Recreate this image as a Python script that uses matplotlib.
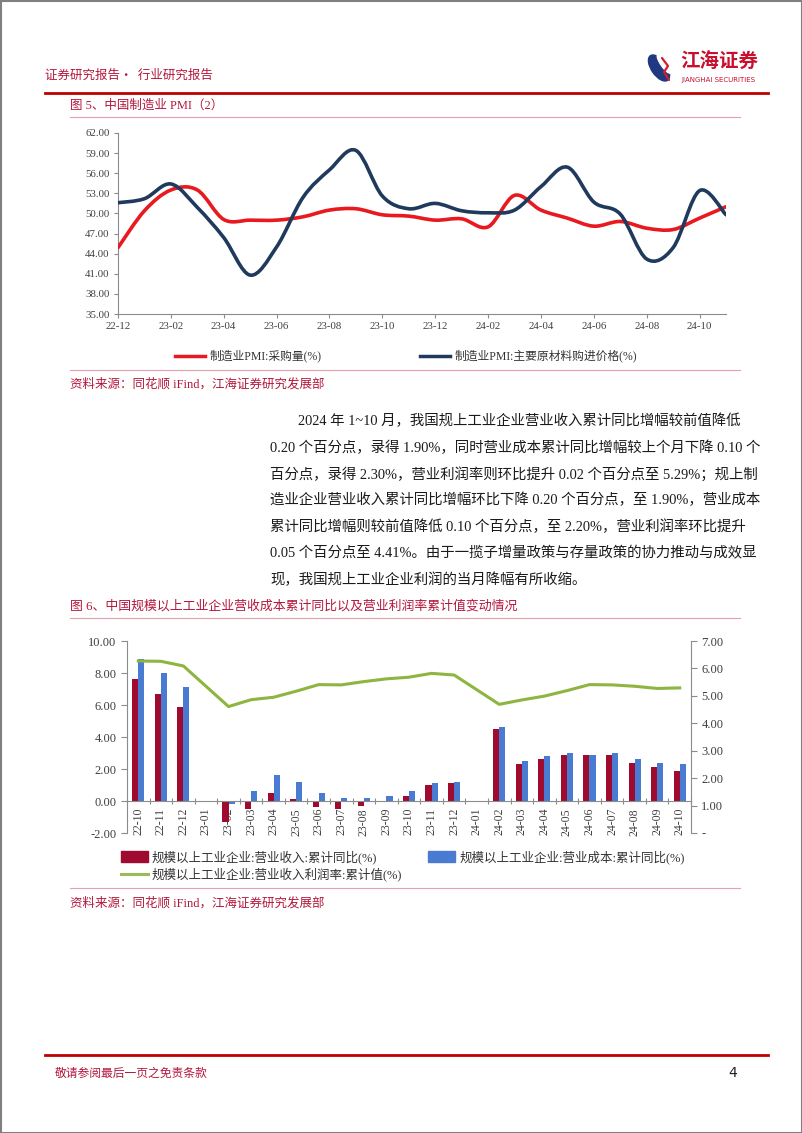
import matplotlib
matplotlib.use("Agg")
import matplotlib.pyplot as plt
import numpy as np
from matplotlib.path import Path
from matplotlib.patches import PathPatch, Rectangle, Ellipse

plt.rcParams['font.family'] = ['Liberation Serif', 'Noto Sans CJK SC', 'DejaVu Sans']

# ---- data: figure 5 (PMI) ----
pmi_months = ['22-12', '23-01', '23-02', '23-03', '23-04', '23-05', '23-06', '23-07',
              '23-08', '23-09', '23-10', '23-11', '23-12', '24-01', '24-02', '24-03',
              '24-04', '24-05', '24-06', '24-07', '24-08', '24-09', '24-10', '24-11']
pmi_purchase = [44.9, 50.4, 53.5, 53.5, 49.1, 49.0, 49.0, 49.5, 50.5, 50.7, 49.8, 49.6,
                49.0, 49.2, 48.0, 52.7, 50.5, 49.3, 48.1, 48.8, 47.8, 47.6, 49.3, 51.0]
pmi_price = [51.6, 52.2, 54.4, 50.9, 46.4, 40.8, 45.0, 52.4, 56.5, 59.4, 52.6, 50.7,
             51.5, 50.4, 50.1, 50.5, 54.0, 56.9, 51.7, 49.9, 43.2, 44.9, 53.4, 49.8]
pmi_labels = ['制造业PMI:采购量(%)', '制造业PMI:主要原材料购进价格(%)']

# ---- data: figure 6 (industrial enterprises) ----
ind_months = ['22-10', '22-11', '22-12', '23-01', '23-02', '23-03', '23-04', '23-05',
              '23-06', '23-07', '23-08', '23-09', '23-10', '23-11', '23-12', '24-01',
              '24-02', '24-03', '24-04', '24-05', '24-06', '24-07', '24-08', '24-09', '24-10']
nan = np.nan
revenue_yoy = [7.6, 6.7, 5.9, nan, -1.3, -0.5, 0.5, 0.1, -0.4, -0.5, -0.3, 0.0, 0.3,
               1.0, 1.1, nan, 4.5, 2.3, 2.6, 2.9, 2.9, 2.9, 2.4, 2.1, 1.9]
cost_yoy = [8.9, 8.0, 7.1, nan, -0.2, 0.6, 1.6, 1.2, 0.5, 0.2, 0.2, 0.3, 0.6,
            1.1, 1.2, nan, 4.6, 2.5, 2.8, 3.0, 2.9, 3.0, 2.6, 2.4, 2.3]
profit_margin = [6.27, 6.26, 6.09, nan, 4.61, 4.86, 4.95, 5.17, 5.41, 5.40, 5.52, 5.62, 5.68,
                 5.82, 5.76, nan, 4.69, 4.85, 4.99, 5.19, 5.41, 5.40, 5.35, 5.27, 5.29]
ind_labels = ['规模以上工业企业:营业收入:累计同比(%)', '规模以上工业企业:营业成本:累计同比(%)',
              '规模以上工业企业:营业收入利润率:累计值(%)']

paragraph = [
    '2024 年 1~10 月，我国规上工业企业营业收入累计同比增幅较前值降低',
    '0.20 个百分点，录得 1.90%，同时营业成本累计同比增幅较上个月下降 0.10 个',
    '百分点，录得 2.30%，营业利润率则环比提升 0.02 个百分点至 5.29%；规上制',
    '造业企业营业收入累计同比增幅环比下降 0.20 个百分点，至 1.90%，营业成本',
    '累计同比增幅则较前值降低 0.10 个百分点，至 2.20%，营业利润率环比提升',
    '0.05 个百分点至 4.41%。由于一揽子增量政策与存量政策的协力推动与成效显',
    '现，我国规上工业企业利润的当月降幅有所收缩。',
]

W, H = 802, 1133
CRIMSON = '#B3173C'
PINK = '#E3A3AE'
GRAY = '#8C8C8C'
TICK = '#404040'


def smooth_path(xs, ys):
    pts = np.column_stack([xs, ys]).astype(float)
    n = len(pts)
    verts = [pts[0]]
    codes = [Path.MOVETO]
    for i in range(n - 1):
        p0 = pts[i - 1] if i > 0 else pts[i]
        p1, p2 = pts[i], pts[i + 1]
        p3 = pts[i + 2] if i + 2 < n else pts[i + 1]
        verts += [p1 + (p2 - p0) / 6, p2 - (p3 - p1) / 6, p2]
        codes += [Path.CURVE4] * 3
    return Path(verts, codes)


def fig_rect(x0, y0, x1, y1):
    return [x0 / W, 1 - y1 / H, (x1 - x0) / W, (y1 - y0) / H]


fig = plt.figure(figsize=(W / 100, H / 100), dpi=100)

# page layer in pixel coordinates
page = fig.add_axes([0, 0, 1, 1])
page.set_xlim(0, W)
page.set_ylim(H, 0)
page.axis('off')
page.add_patch(Rectangle((0.5, 0.5), W - 1, H - 1, fill=False, ec='#808080', lw=1.5))

cjk = ['Noto Sans CJK SC', 'DejaVu Sans']
mixed = ['Liberation Serif', 'Noto Sans CJK SC']

# header
page.text(45, 75, '证券研究报告·  行业研究报告', fontsize=9, color=CRIMSON, family=cjk, va='center')
page.add_patch(Ellipse((659, 68), 15, 30, angle=-35, color='#1F3A80'))
page.add_patch(Ellipse((664, 64), 6, 22, angle=-35, color='white'))
page.plot([662, 668, 664, 669], [58, 66, 72, 80], color='#D21F2B', lw=1.6, solid_capstyle='round')
page.text(680, 62, '江海证券', fontsize=14, color='#C8102E', family=cjk, va='center', weight='bold')
page.text(681, 80, 'JIANGHAI SECURITIES', fontsize=5, color='#C8102E', family=['DejaVu Sans'], va='center')
page.plot([45, 768], [93, 93], color='#C00000', lw=2)

# figure 5 title and footer
page.text(70, 106, '图 5、中国制造业 PMI（2）', fontsize=9, color=CRIMSON, family=mixed, va='center')
page.plot([70, 740], [117, 117], color=PINK, lw=0.8)
page.plot([175, 205], [356, 356], color='#E8191F', lw=2.5)
page.text(210, 356, pmi_labels[0], fontsize=8.5, color='#333333', family=mixed, va='center')
page.plot([420, 450], [356, 356], color='#1F3A5C', lw=2.5)
page.text(455, 356, pmi_labels[1], fontsize=8.5, color='#333333', family=mixed, va='center')
page.plot([70, 740], [370, 370], color=PINK, lw=0.8)
page.text(70, 384, '资料来源：同花顺 iFind，江海证券研究发展部', fontsize=9, color=CRIMSON, family=mixed, va='center')

# paragraph
for i, line in enumerate(paragraph):
    x = 298 if i == 0 else 270
    page.text(x, 421 + i * 26.4, line, fontsize=10.4, color='#1A1A1A', family=mixed, va='center')

# figure 6 title, legend, footer
page.text(70, 606, '图 6、中国规模以上工业企业营收成本累计同比以及营业利润率累计值变动情况', fontsize=9.3,
          color=CRIMSON, family=mixed, va='center')
page.plot([70, 740], [618, 618], color=PINK, lw=0.8)
page.add_patch(Rectangle((121, 851), 27, 11, color='#9E0B2E'))
page.text(152, 857, ind_labels[0], fontsize=9, color='#333333', family=mixed, va='center')
page.add_patch(Rectangle((428, 851), 27, 11, color='#4A7BD3'))
page.text(460, 857, ind_labels[1], fontsize=9, color='#333333', family=mixed, va='center')
page.plot([121, 148], [874, 874], color='#9BBB59', lw=2.2)
page.text(152, 874, ind_labels[2], fontsize=9, color='#333333', family=mixed, va='center')
page.plot([70, 740], [888, 888], color=PINK, lw=0.8)
page.text(70, 903, '资料来源：同花顺 iFind，江海证券研究发展部', fontsize=9, color=CRIMSON, family=mixed, va='center')

# page footer
page.plot([45, 768], [1055, 1055], color='#C00000', lw=2)
page.text(55, 1073, '敬请参阅最后一页之免责条款', fontsize=8.5, color=CRIMSON, family=cjk, va='center')
page.text(733, 1073, '4', fontsize=10, color='#222222', family=['DejaVu Sans'], va='center', ha='center')

# ---- chart 1: PMI ----
ax1 = fig.add_axes(fig_rect(118, 133, 726, 314))
x1 = np.arange(len(pmi_months))
ax1.add_patch(PathPatch(smooth_path(x1, pmi_purchase), fill=False, ec='#E8191F', lw=2.6,
                        capstyle='round', joinstyle='round', zorder=3))
ax1.add_patch(PathPatch(smooth_path(x1, pmi_price), fill=False, ec='#1F3A5C', lw=2.6,
                        capstyle='round', joinstyle='round', zorder=3))
ax1.set_xlim(0, len(pmi_months) - 1)
ax1.set_ylim(35, 62)
ax1.set_yticks(np.arange(35, 62.1, 3))
ax1.set_yticklabels(['%.2f' % v for v in np.arange(35, 62.1, 3)])
ax1.set_xticks(x1[::2])
ax1.set_xticklabels(pmi_months[::2])
for s in ['top', 'right']:
    ax1.spines[s].set_visible(False)
for s in ['left', 'bottom']:
    ax1.spines[s].set_color(GRAY)
    ax1.spines[s].set_linewidth(0.8)
ax1.tick_params(colors=GRAY, labelcolor=TICK, labelsize=7.8, length=3, width=0.8, pad=3)
ax1.patch.set_alpha(0)

# ---- chart 2: industrial enterprises ----
ax2 = fig.add_axes(fig_rect(127, 641, 691, 833))
ax2.spines['bottom'].set_position(('data', 0))
x2 = np.arange(len(ind_months))
w = 0.27
ax2.bar(x2 - w / 2, revenue_yoy, w, color='#9E0B2E', zorder=2)
ax2.bar(x2 + w / 2, cost_yoy, w, color='#4A7BD3', zorder=2)
ax2.set_xlim(-0.5, len(ind_months) - 0.5)
ax2.set_ylim(-2, 10)
ax2.set_yticks(np.arange(-2, 10.1, 2))
ax2.set_yticklabels(['%.2f' % v for v in np.arange(-2, 10.1, 2)])
ax2.set_xticks(x2)
ax2.set_xticklabels(ind_months, rotation=90, va='top', ha='center')
ax2.set_xticks(np.arange(-0.5, len(ind_months), 1), minor=True)
for s in ['top', 'right']:
    ax2.spines[s].set_visible(False)
for s in ['left', 'bottom']:
    ax2.spines[s].set_color(GRAY)
    ax2.spines[s].set_linewidth(0.8)
ax2.tick_params(axis='y', colors=GRAY, labelcolor=TICK, labelsize=9, length=4, width=0.8)
ax2.tick_params(axis='x', which='major', length=0, labelsize=8.5, labelcolor=TICK, pad=5)
ax2.tick_params(axis='x', which='minor', length=4, direction='inout', color=GRAY, width=0.8)
ax2.patch.set_alpha(0)

ax2r = ax2.twinx()
m = np.array(profit_margin)
ok = ~np.isnan(m)
ax2r.plot(x2[ok], m[ok], color='#8DB53F', lw=2.2, solid_joinstyle='round', zorder=3)
ax2r.set_ylim(0, 7)
ax2r.set_yticks(np.arange(0, 7.1, 1))
ax2r.set_yticklabels(['-' if v == 0 else '%.2f' % v for v in np.arange(0, 7.1, 1)])
for s in ['top', 'left', 'bottom']:
    ax2r.spines[s].set_visible(False)
ax2r.spines['right'].set_color(GRAY)
ax2r.spines['right'].set_linewidth(0.8)
ax2r.tick_params(axis='y', colors=GRAY, labelcolor=TICK, labelsize=9, length=4, width=0.8)

fig.savefig('out.png', dpi=100)
